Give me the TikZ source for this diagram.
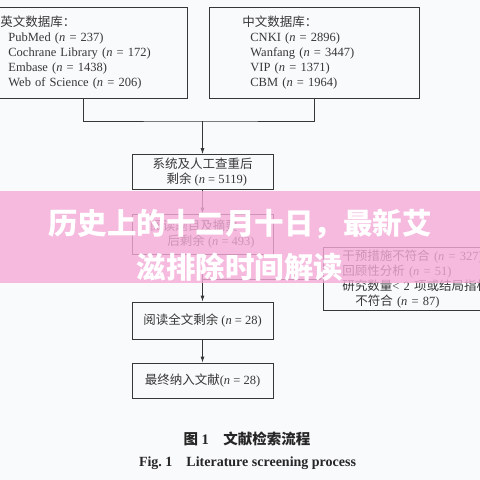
\documentclass[tikz,border=0pt]{standalone}
\usepackage{fontspec}
\setmainfont{Liberation Serif}
\newfontfamily\cjk{Noto Sans CJK SC}
\usetikzlibrary{arrows.meta}
\definecolor{pagebg}{RGB}{249,250,252}
\definecolor{banner}{RGB}{245,170,215}
\definecolor{ink}{RGB}{55,55,55}
\newcommand{\nval}[1]{(\textit{n} = #1)}

\begin{document}
\begin{tikzpicture}[x=1pt, y=-1pt,
    box/.style={draw=ink, line width=0.8pt, text=ink,
                font=\fontsize{12.5}{15}\selectfont},
    dbbox/.style={box, anchor=north west, align=left,
                  minimum height=91pt, inner ysep=0pt},
    stepbox/.style={box, minimum width=141pt, align=left},
    link/.style={draw=ink, line width=0.8pt},
    arr/.style={link, -{Latex[length=6pt, width=4pt]}},
]
\clip (0,0) rectangle (480,480);
\fill[pagebg] (0,0) rectangle (480,480);

\node[dbbox, text width=166pt, inner xsep=21pt] (engdb) at (-21,7)
    {{\cjk 英文数据库：}\\
     \hspace*{8pt}PubMed \nval{237}\\
     \hspace*{8pt}Cochrane Library \nval{172}\\
     \hspace*{8pt}Embase \nval{1438}\\
     \hspace*{8pt}Web of Science \nval{206}};
\node[dbbox, text width=144pt, inner xsep=33pt] (cndb) at (209,7)
    {{\cjk 中文数据库：}\\
     \hspace*{8pt}CNKI \nval{2896}\\
     \hspace*{8pt}Wanfang \nval{3447}\\
     \hspace*{8pt}VIP \nval{1371}\\
     \hspace*{8pt}CBM \nval{1964}};

\node[stepbox, minimum height=34pt] (dedup) at (202.5,172)
    {{\cjk 系统及人工查重后}\\\hspace*{14pt}{\cjk 剩余}\ \nval{5119}};
\node[stepbox, minimum height=40pt] (screen) at (202.5,234)
    {{\cjk 阅读题目及摘要}\\\hspace*{17pt}{\cjk 后剩余}\ \nval{493}};
\node[stepbox, minimum height=37pt, align=center] (fulltext) at (202.5,320.5)
    {{\cjk 阅读全文剩余}\ \nval{28}};
\node[stepbox, minimum height=35pt, align=center] (final) at (202.5,380.5)
    {{\cjk 最终纳入文献}\nval{28}};

\node[box, anchor=north west, align=left, text width=220pt, inner xsep=19pt,
      inner ysep=0pt, minimum height=63pt] (excl) at (323,247)
    {{\cjk 干预措施不符合}\ \nval{327}\\
     {\cjk 回顾性分析}\ \nval{51}\\
     {\cjk 研究数量}< 2 {\cjk 项或结局指标}\\
     \hspace*{13pt}{\cjk 不符合}\ \nval{87}};

\coordinate (merge) at (202.5,121);
\draw[link] (engdb.south) |- (merge) -| (cndb.south);
\draw[arr] (merge) -- (dedup);
\draw[arr] (dedup) -- (screen);
\draw[arr] (screen) -- (fulltext);
\coordinate (branch) at (screen.south |- excl.west);
\draw[arr] (branch) -- (excl.west);
\draw[arr] (fulltext) -- (final);

\node[font=\fontsize{14.5}{17}\selectfont\bfseries, text=black!85] (cap) at (247,439)
    {{\cjk 图}~1\quad{\cjk 文献检索流程}};
\node[font=\fontsize{14}{17}\selectfont\bfseries, text=black!85] (capen) at (247.5,463)
    {Fig.~1\quad Literature screening process};

\fill[banner, opacity=0.8] (0,191) rectangle (480,283);
\node[text=white, font=\cjk\bfseries\fontsize{29.5}{44}\selectfont, align=center] (title)
    at (240,245) {历史上的十二月十日，最新艾\\滋排除时间解读};
\end{tikzpicture}
\end{document}
